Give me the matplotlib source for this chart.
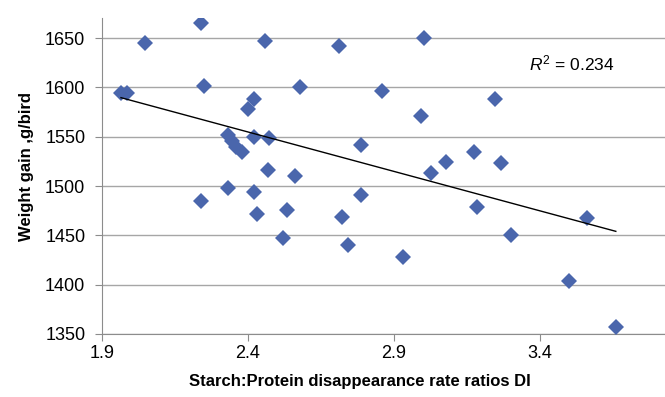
import matplotlib
matplotlib.use('Agg')
import matplotlib.pyplot as plt
import numpy as np

plt.rcParams['font.family'] = ['Liberation Sans', 'DejaVu Sans']
plt.rcParams['mathtext.fontset'] = 'custom'
plt.rcParams['mathtext.rm'] = 'Liberation Sans'
plt.rcParams['mathtext.it'] = 'Liberation Sans:italic'

# starch:protein disappearance rate ratio (DI) vs weight gain
ratio = [2.238, 2.047, 2.46, 2.713, 3.004, 1.965, 1.986, 2.25, 2.578, 2.86,
         2.42, 2.40, 2.332, 2.345, 2.359, 2.379, 2.42, 2.472, 2.786, 2.47,
         2.561, 2.33, 2.42, 2.786, 2.238, 2.432, 2.532, 2.521, 2.723, 2.741,
         2.992, 3.247, 3.175, 3.077, 3.266, 3.027, 3.183, 3.30, 2.932, 3.50,
         3.56, 3.66]
gain = [1665, 1645, 1647, 1642, 1650, 1594, 1594, 1601, 1600, 1596,
        1588, 1578, 1552, 1546, 1540, 1534, 1550, 1549, 1542, 1516,
        1510, 1498, 1494, 1491, 1485, 1472, 1476, 1447, 1469, 1440,
        1571, 1588, 1534, 1524, 1523, 1513, 1479, 1450, 1428, 1404,
        1468, 1357]
xticks = [1.9, 2.4, 2.9, 3.4]
yticks = [1350, 1400, 1450, 1500, 1550, 1600, 1650]
r2_label = '0.234'

x = np.array(ratio)
y = np.array(gain)

fig = plt.figure(figsize=(6.65, 3.97), dpi=100)
ax = fig.add_axes([0.1534, 0.1587, 0.878, 0.796])

ax.set_xlim(1.9, 3.9)
ax.set_ylim(1350, 1670.3)
ax.set_xticks(xticks)
ax.set_yticks(yticks)
ax.grid(axis='y', color='#a6a6a6', linewidth=1)
ax.set_axisbelow(True)

for s in ['top', 'right']:
    ax.spines[s].set_visible(False)
for s in ['left', 'bottom']:
    ax.spines[s].set_color('#8c8c8c')
ax.tick_params(axis='both', colors='#8c8c8c', labelcolor='black', labelsize=13,
               length=5, direction='out')
ax.tick_params(axis='y', pad=7)
ax.tick_params(axis='x', pad=3)

ax.plot(x, y, 'D', color='#4a66ac', markersize=8.5, markeredgewidth=0, zorder=3)

k, b = np.polyfit(x, y, 1)
xf = np.array([x.min(), x.max()])
ax.plot(xf, k * xf + b, color='black', linewidth=1, zorder=4)

ax.text(3.51, 1624, r'$\mathit{R}^{2}$ = ' + r2_label, fontsize=12.5,
        ha='center', va='center')

ax.set_xlabel('Starch:Protein disappearance rate ratios DI', fontsize=12,
              fontweight='bold')
ax.xaxis.set_label_coords(0.442, -0.128)
ax.set_ylabel('Weight gain ,g/bird', fontsize=12, fontweight='bold')
ax.yaxis.set_label_coords(-0.117, 0.53)

fig.savefig('out.png', dpi=100)
